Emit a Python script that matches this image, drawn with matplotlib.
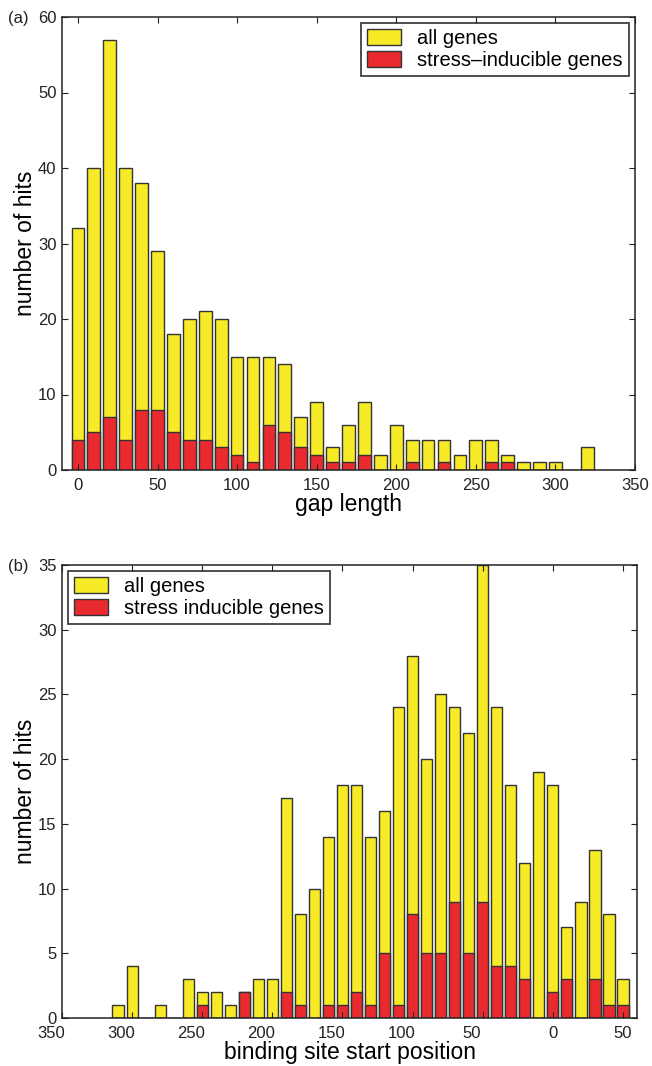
import matplotlib
matplotlib.use("Agg")
import matplotlib.pyplot as plt
import matplotlib.transforms as mtransforms
import numpy as np

plt.rcParams['font.family'] = ['Liberation Sans', 'DejaVu Sans']

# (a) gap length histogram
gap_pos = np.arange(0, 330, 10)
gap_all = [32, 40, 57, 40, 38, 29, 18, 20, 21, 20, 15, 15, 15, 14, 7, 9, 3,
           6, 9, 2, 6, 4, 4, 4, 2, 4, 4, 2, 1, 1, 1, 0, 3]
gap_stress = [4, 5, 7, 4, 8, 8, 5, 4, 4, 3, 2, 1, 6, 5, 3, 2, 1,
              1, 2, 0, 0, 1, 0, 1, 0, 0, 1, 1, 0, 0, 0, 0, 0]

# (b) binding site start position histogram
site_pos = np.arange(-310, 60, 10)
site_all = [1, 4, 0, 1, 0, 3, 2, 2, 1, 2, 3, 3, 17, 8, 10, 14, 18, 18, 14,
            16, 24, 28, 20, 25, 24, 22, 35, 24, 18, 12, 19, 18, 7, 9, 13, 8, 3]
site_stress = [0, 0, 0, 0, 0, 0, 1, 0, 0, 2, 0, 0, 2, 1, 0, 1, 1, 2, 1,
               5, 1, 8, 5, 5, 9, 5, 9, 4, 4, 3, 0, 2, 3, 0, 3, 1, 1]
site_ticks = np.arange(-350, 51, 50)
site_ticklabels = ['350', '300', '250', '200', '150', '100', '50', '0', '50']

yellow = '#f7ea27'
red = '#e92b30'
edge = '#333333'

fig = plt.figure(figsize=(6.52, 10.66), dpi=100)
ax1 = fig.add_axes([62/652, 1-470/1066, 573/652, 453/1066])
ax2 = fig.add_axes([62/652, 1-1018/1066, 575/652, 453/1066])


def style(ax):
    ax.tick_params(direction='in', length=4, width=0.8, top=True, right=True,
                   labelsize=12, colors='#222222', pad=4)
    ax.tick_params(axis='x', pad=6)
    for s in ax.spines.values():
        s.set_linewidth(1.1)
        s.set_color('#222222')


ax1.bar(gap_pos, gap_all, width=8, color=yellow, edgecolor=edge, linewidth=1,
        label='all genes')
ax1.bar(gap_pos, gap_stress, width=8, color=red, edgecolor=edge, linewidth=1,
        label='stress\u2013inducible genes')
ax1.set_xlim(-10, 350)
ax1.set_ylim(0, 60)
ax1.set_xticks(np.arange(0, 351, 50))
ax1.set_yticks(np.arange(0, 61, 10))
ax1.set_xlabel('gap length', fontsize=16.5, labelpad=0)
ax1.set_ylabel('number of hits', fontsize=16.5, labelpad=0.5)
style(ax1)
leg1 = ax1.legend(loc='upper right', fontsize=14.5, frameon=True, fancybox=False,
                  edgecolor='#111111', handlelength=1.7, handleheight=0.8,
                  borderaxespad=0.3, borderpad=0.3, labelspacing=0.15,
                  handletextpad=0.8)
leg1.get_frame().set_linewidth(1.3)

ax2.bar(site_pos, site_all, width=8, color=yellow, edgecolor=edge, linewidth=1,
        label='all genes')
ax2.bar(site_pos, site_stress, width=8, color=red, edgecolor=edge, linewidth=1,
        label='stress inducible genes')
ax2.set_xlim(-350, 60)
ax2.set_ylim(0, 35)
ax2.set_xticks(site_ticks)
ax2.set_xticklabels(site_ticklabels)
ax2.set_yticks(np.arange(0, 36, 5))
ax2.set_xlabel('binding site start position', fontsize=16.5, labelpad=0)
ax2.set_ylabel('number of hits', fontsize=16.5, labelpad=0.5)
style(ax2)
leg2 = ax2.legend(loc='upper left', fontsize=14.5, frameon=True, fancybox=False,
                  edgecolor='#111111', handlelength=1.7, handleheight=0.8,
                  borderaxespad=0.3, borderpad=0.3, labelspacing=0.15,
                  handletextpad=0.8)
leg2.get_frame().set_linewidth(1.3)

# negative position labels sit a bit left of their ticks
shift = mtransforms.ScaledTranslation(-11/100, 0, fig.dpi_scale_trans)
for t, lab in zip(site_ticks, ax2.get_xticklabels()):
    if t < 0:
        lab.set_transform(lab.get_transform() + shift)

fig.text(8/652, 1-18/1066, '(a)', fontsize=12, va='center', color='#222222')
fig.text(8/652, 1-566/1066, '(b)', fontsize=12, va='center', color='#222222')

fig.savefig('out.png', dpi=100)
